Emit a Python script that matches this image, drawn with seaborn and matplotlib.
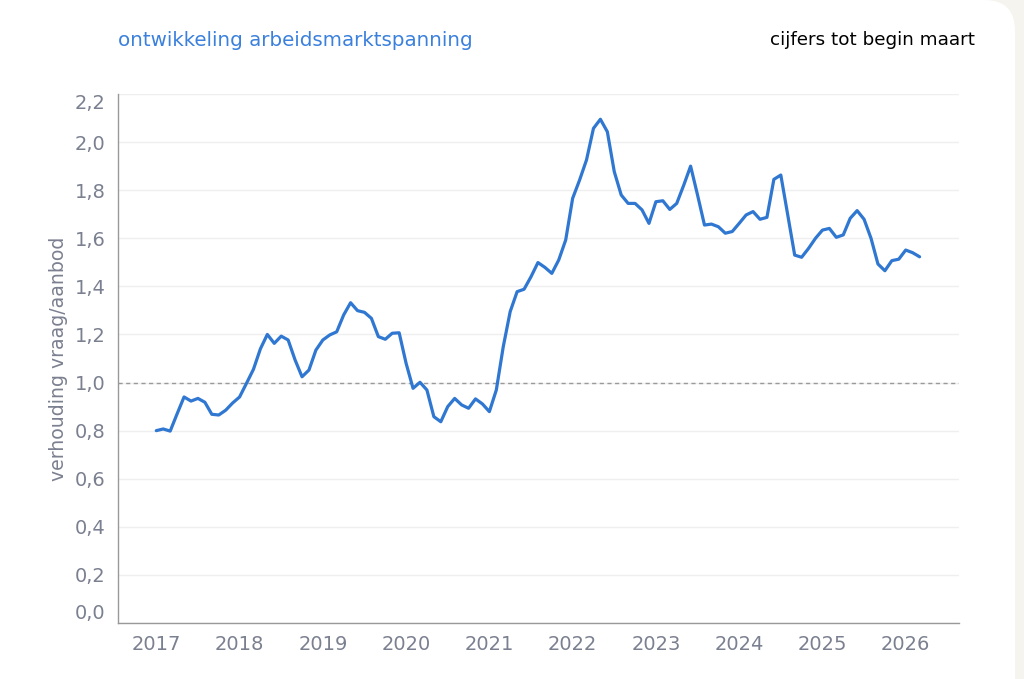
import seaborn as sns
import matplotlib.pyplot as plt
import matplotlib.patches as mpatches
import pandas as pd
import numpy as np

# maandcijfers jan 2017 t/m mrt 2026
start_maand = "2017-01-01"
spanning = [
    0.80, 0.807, 0.798, 0.87, 0.94, 0.923, 0.934, 0.918, 0.868, 0.865, 0.885, 0.915,   # 2017
    0.94, 0.997, 1.055, 1.14, 1.20, 1.163, 1.193, 1.177, 1.094, 1.024, 1.052, 1.135,   # 2018
    1.177, 1.198, 1.211, 1.281, 1.332, 1.299, 1.292, 1.267, 1.191, 1.18, 1.205, 1.207,  # 2019
    1.08, 0.976, 1.001, 0.969, 0.858, 0.837, 0.90, 0.934, 0.907, 0.893, 0.932, 0.911,   # 2020
    0.879, 0.969, 1.149, 1.295, 1.378, 1.388, 1.44, 1.499, 1.479, 1.454, 1.51, 1.593,   # 2021
    1.766, 1.842, 1.926, 2.057, 2.095, 2.043, 1.877, 1.78, 1.745, 1.745, 1.718, 1.662,  # 2022
    1.752, 1.756, 1.72, 1.745, 1.82, 1.90, 1.78, 1.655, 1.659, 1.648, 1.621, 1.628,     # 2023
    1.662, 1.697, 1.711, 1.679, 1.687, 1.845, 1.863, 1.697, 1.53, 1.521, 1.558, 1.60,   # 2024
    1.634, 1.641, 1.604, 1.614, 1.683, 1.715, 1.679, 1.60, 1.493, 1.465, 1.507, 1.513,  # 2025
    1.551, 1.54, 1.523,                                                                 # 2026
]
jaren = [2017, 2018, 2019, 2020, 2021, 2022, 2023, 2024, 2025, 2026]
y_ticks = [0.0, 0.2, 0.4, 0.6, 0.8, 1.0, 1.2, 1.4, 1.6, 1.8, 2.0, 2.2]

datums = pd.date_range(start_maand, periods=len(spanning), freq="MS")
df = pd.DataFrame({"datum": datums, "spanning": spanning})
df["jaar"] = df["datum"].dt.year + (df["datum"].dt.month - 1) / 12

blauw = "#2f77d1"
grijs = "#7b8090"

sns.set_style("white")
plt.rcParams["font.family"] = ["DejaVu Sans"]

fig = plt.figure(figsize=(10.24, 6.79), dpi=100)
fig.patch.set_facecolor("#f5f4ef")

# witte kaart met afgeronde hoek rechtsboven
W, H = 1024, 679
kaart = mpatches.FancyBboxPatch((-60 / W, -60 / H), (1015 + 60) / W, (H + 60) / H,
                                boxstyle=mpatches.BoxStyle("Round", pad=0, rounding_size=0.03),
                                transform=fig.transFigure, facecolor="white",
                                edgecolor="none", zorder=-5, mutation_aspect=W / H)
fig.patches.append(kaart)

ax = fig.add_axes([118 / W, 1 - 623 / H, (959 - 118) / W, (623 - 94) / H])
ax.set_facecolor("white")

sns.lineplot(data=df, x="jaar", y="spanning", ax=ax, color=blauw, linewidth=2.3)
ax.axhline(1.0, color="#9a9a9a", linestyle=(0, (3, 2.5)), linewidth=1.0, zorder=1)

ax.set_xlim(2016.54, 2026.64)
ax.set_ylim(0, 2.2)
ax.set_xticks(jaren)
ax.set_xticklabels([str(j) for j in jaren])
ax.set_yticks(y_ticks)
ax.set_yticklabels([f"{v:.1f}".replace(".", ",") for v in y_ticks])
labels = ax.get_yticklabels()
labels[0].set_va("bottom")
labels[-1].set_va("top")

ax.yaxis.grid(True, color="#efefef", linewidth=1.0)
ax.xaxis.grid(False)
ax.tick_params(axis="x", colors=grijs, labelsize=14, length=5, width=1, pad=4)
ax.tick_params(axis="y", colors=grijs, labelsize=14, length=0, pad=9)
ax.tick_params(axis="x", color="#999999")
for kant in ["top", "right"]:
    ax.spines[kant].set_visible(False)
for kant in ["left", "bottom"]:
    ax.spines[kant].set_color("#999999")
    ax.spines[kant].set_linewidth(1.0)

ax.set_xlabel("")
ax.set_ylabel("verhouding vraag/aanbod", color=grijs, fontsize=13.6, labelpad=5)

fig.text(118 / W, 1 - 40 / H, "ontwikkeling arbeidsmarktspanning", color="#3a80dc",
         fontsize=14.3, ha="left", va="center")
fig.text(975 / W, 1 - 40 / H, "cijfers tot begin maart", color="black",
         fontsize=13.2, ha="right", va="center")

fig.savefig("out.png", dpi=100, facecolor=fig.get_facecolor())
